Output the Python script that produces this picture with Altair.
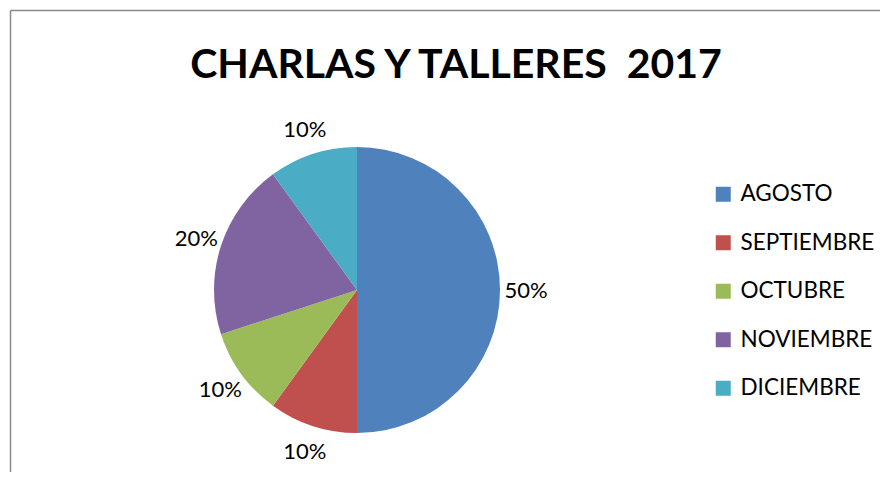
import altair as alt
import pandas as pd

months = ["AGOSTO", "SEPTIEMBRE", "OCTUBRE", "NOVIEMBRE", "DICIEMBRE"]
percents = [50, 10, 10, 20, 10]
colors = ["#4F81BD", "#C0504D", "#9BBB59", "#8064A2", "#4BACC6"]
title_text = "CHARLAS Y TALLERES \u00a02017"

df = pd.DataFrame({
    "mes": months,
    "valor": percents,
    "orden": list(range(len(months))),
    "etiqueta": [f"{p}%" for p in percents],
})

FONT = "Lato"
CX, CY, R = 349, 282, 143

base = alt.Chart(df).encode(
    theta=alt.Theta("valor:Q", stack=True),
    order=alt.Order("orden:Q", sort="ascending"),
)

pie = base.mark_arc(outerRadius=R, stroke=None).encode(
    x=alt.value(CX),
    y=alt.value(CY),
    color=alt.Color(
        "mes:N",
        sort=months,
        scale=alt.Scale(domain=months, range=colors),
        legend=alt.Legend(
            title=None,
            orient="none",
            legendX=704,
            legendY=175,
            symbolType="square",
            symbolSize=225,
            symbolStrokeWidth=0,
            labelFont=FONT,
            labelFontSize=22.5,
            labelColor="#000000",
            labelOffset=6,
            rowPadding=25.5,
        ),
    ),
)

labels = base.mark_text(radius=169, font=FONT, fontSize=22, color="#000000").encode(
    x=alt.value(CX),
    y=alt.value(CY + 1),
    text="etiqueta:N",
)

title = alt.Chart(pd.DataFrame({"t": [title_text]})).mark_text(
    font=FONT, fontSize=41, fontWeight="bold", color="#000000",
    align="center", baseline="alphabetic",
).encode(x=alt.value(448), y=alt.value(70), text="t:N")

frame_left = alt.Chart(pd.DataFrame({"a": [0]})).mark_rule(
    color="#8a8a8a", strokeWidth=1.5
).encode(x=alt.value(2.5), y=alt.value(2.5), y2=alt.value(470))

frame_top = alt.Chart(pd.DataFrame({"a": [0]})).mark_rule(
    color="#8a8a8a", strokeWidth=1.5
).encode(x=alt.value(2.5), x2=alt.value(880), y=alt.value(2.5))

chart = alt.layer(frame_left, frame_top, pie, labels, title).properties(
    width=872, height=464, autosize=alt.AutoSizeParams(type="none"), padding=0,
    background="#ffffff",
).configure_view(stroke=None)

chart.save("out.html", embed_options={"renderer": "svg", "actions": False})
